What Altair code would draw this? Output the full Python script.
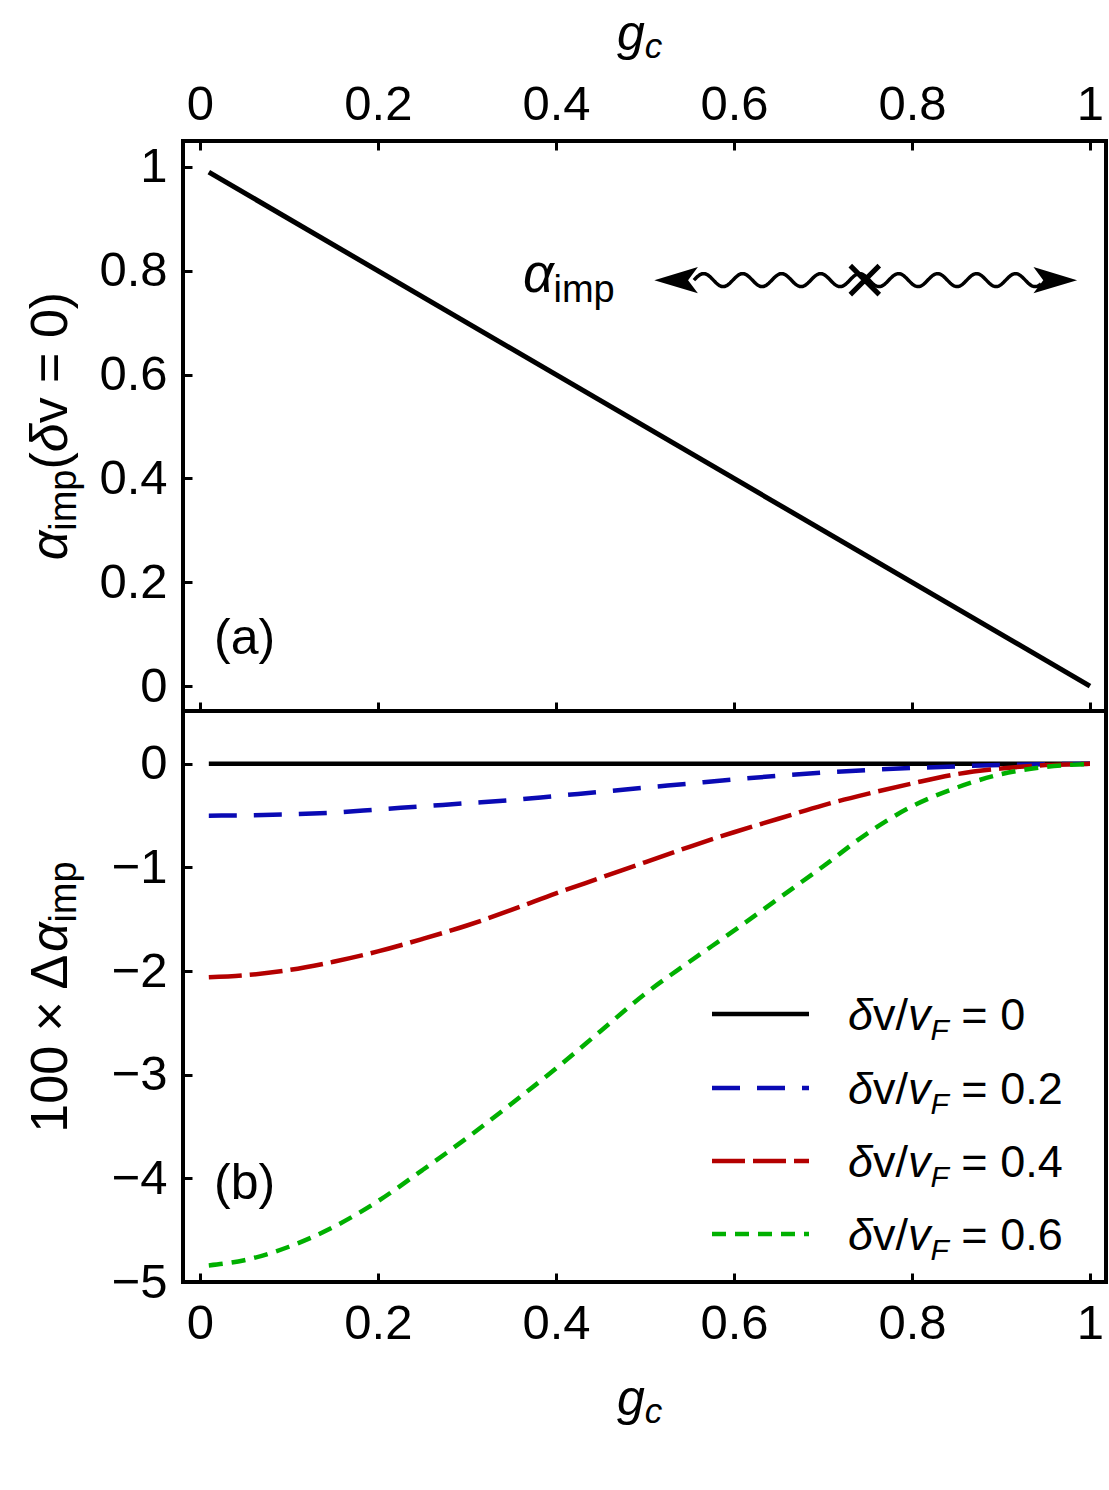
import altair as alt
import numpy as np
import pandas as pd

FONT = "Liberation Sans"

# ---------------------------------------------------------------- data
# panel (a): impurity coupling at zero velocity mismatch
gc_line = [0.01, 1.0]
alpha_imp_dv0 = [0.99, 0.0]

# panel (b): 100 x Δα_imp for several δv/v_F
gc = [0.01, 0.05, 0.10, 0.15, 0.20, 0.25, 0.30, 0.35, 0.40, 0.45, 0.50,
      0.55, 0.60, 0.65, 0.70, 0.75, 0.80, 0.85, 0.90, 0.95, 1.00]
gc_zero = [0.01, 1.0]
d_alpha_00 = [0.0, 0.0]
d_alpha_02 = [-0.500, -0.497, -0.487, -0.470, -0.440, -0.410, -0.380, -0.350,
              -0.310, -0.270, -0.230, -0.190, -0.150, -0.115, -0.085, -0.060,
              -0.040, -0.024, -0.011, -0.003, 0.0]
d_alpha_04 = [-2.06, -2.04, -1.99, -1.91, -1.81, -1.69, -1.56, -1.41, -1.25,
              -1.10, -0.95, -0.80, -0.66, -0.53, -0.40, -0.29, -0.19, -0.10,
              -0.045, -0.012, 0.0]
d_alpha_06 = [-4.84, -4.79, -4.66, -4.47, -4.22, -3.92, -3.61, -3.28, -2.94,
              -2.58, -2.22, -1.91, -1.61, -1.30, -0.99, -0.67, -0.41, -0.23,
              -0.10, -0.03, 0.0]

legend_values = ["0", "0.2", "0.4", "0.6"]
x_ticks = [0, 0.2, 0.4, 0.6, 0.8, 1]
y_ticks_a = [0, 0.2, 0.4, 0.6, 0.8, 1]
y_ticks_b = [-5, -4, -3, -2, -1, 0]

# ---------------------------------------------------------------- styles
colors = ["#000000", "#0a0ab4", "#b40000", "#00b000"]
dashes = [None, [28, 17], [33, 8], [14, 9]]

W, HA, HB = 923, 570, 571
xs = alt.Scale(domain=[-0.019, 1.018], nice=False, zero=False)
ys_a = alt.Scale(domain=[-0.048, 1.05], nice=False, zero=False)
ys_b = alt.Scale(domain=[-5.0, 0.51], nice=False, zero=False)

LABEL_FS = 49
TICK = 9


def inward_axis(orient, values, labels=True, pad=16):
    kw = dict(orient=orient, values=values, format="~g", title=None,
              offset=-TICK, tickSize=TICK, tickWidth=3, tickColor="black",
              labels=labels, labelFont=FONT, labelFontSize=LABEL_FS,
              labelColor="black", labelPadding=pad, labelFlush=False,
              labelOverlap=False, domain=False, grid=False)
    return alt.Axis(**kw)


# advance widths (em) of Liberation Sans, used to place mixed-style text runs
EM = {"α": 0.565, "δ": 0.556, "Δ": 0.667, "×": 0.584, "v": 0.5, "F": 0.611,
      "i": 0.222, "m": 0.833, "p": 0.556, "(": 0.333, ")": 0.333, "=": 0.584,
      " ": 0.278, "0": 0.556, "1": 0.556, "2": 0.556, "4": 0.556, "6": 0.556,
      ".": 0.278, "/": 0.278, "g": 0.556, "c": 0.5, "a": 0.556, "b": 0.556}


def run_width(s, fs):
    return sum(EM[ch] for ch in s) * fs


def hrun(x0, base, parts):
    out, x = [], x0
    for text, fs, it, sh in parts:
        lead = len(text) - len(text.lstrip(" "))
        x += run_width(" " * lead, fs)
        body = text.lstrip(" ")
        out.append(dict(px=x, py=base + sh, t=body, fs=fs, it=it, ang=0))
        x += run_width(body, fs)
    return out


def vrun(bx, yc, parts):
    total = sum(run_width(t, fs) for t, fs, _, _ in parts)
    out, y = [], yc + total / 2
    for text, fs, it, sh in parts:
        out.append(dict(px=bx + sh, py=y, t=text, fs=fs, it=it, ang=270))
        y -= run_width(text, fs)
    return out


def text_layers(rows):
    df = pd.DataFrame(rows)
    layers = []
    for italic in (True, False):
        sub = df[df["it"] == italic]
        if sub.empty:
            continue
        layers.append(
            alt.Chart(sub).mark_text(
                align="left", baseline="alphabetic", font=FONT,
                color="black", fontStyle="italic" if italic else "normal",
            ).encode(
                x=alt.X("px:Q", scale=None, axis=None),
                y=alt.Y("py:Q", scale=None, axis=None),
                text="t:N",
                size=alt.Size("fs:Q", scale=None, legend=None),
                angle=alt.Angle("ang:Q", scale=None, legend=None),
            )
        )
    return layers


# ---------------------------------------------------------------- panel (a)
top_df = pd.DataFrame({"g": gc_line, "a": alpha_imp_dv0})
main_line = alt.Chart(top_df).mark_line(color="black", strokeWidth=5).encode(
    x=alt.X("g:Q", scale=xs, axis=inward_axis("top", x_ticks, pad=12)),
    y=alt.Y("a:Q", scale=ys_a, axis=inward_axis("left", y_ticks_a)),
)

# wavy impurity line with arrowheads and a cross at the impurity site
wave_y = 0.782
wave_g = np.linspace(0.555, 0.945, 500)
wave_df = pd.DataFrame({
    "g": wave_g,
    "a": wave_y + 0.0125 * np.sin(2 * np.pi * (wave_g - 0.555) / 0.0438),
})
wave = alt.Chart(wave_df).mark_line(color="black", strokeWidth=3.5).encode(
    x=alt.X("g:Q", scale=xs, axis=inward_axis("bottom", x_ticks, labels=False)),
    y=alt.Y("a:Q", scale=ys_a, axis=None),
)

head_left = alt.Chart(pd.DataFrame({"g": [0.535], "a": [wave_y]})).mark_point(
    shape="M -1 0 L 1 -0.6 L 0.55 0 L 1 0.6 Z", size=1900, filled=True,
    color="black", opacity=1, strokeWidth=0,
).encode(x=alt.X("g:Q", scale=xs, axis=None), y=alt.Y("a:Q", scale=ys_a, axis=None))

head_right = alt.Chart(pd.DataFrame({"g": [0.961], "a": [wave_y]})).mark_point(
    shape="M 1 0 L -1 -0.6 L -0.55 0 L -1 0.6 Z", size=1900, filled=True,
    color="black", opacity=1, strokeWidth=0,
).encode(x=alt.X("g:Q", scale=xs, axis=None), y=alt.Y("a:Q", scale=ys_a, axis=None))

cross = alt.Chart(pd.DataFrame({"g": [0.747], "a": [wave_y]})).mark_point(
    shape="M -1 -1 L 1 1 M -1 1 L 1 -1", size=841, filled=False,
    color="black", opacity=1, strokeWidth=5,
).encode(x=alt.X("g:Q", scale=xs, axis=None), y=alt.Y("a:Q", scale=ys_a, axis=None))

# keeps the page origin fixed at the upper-left corner
anchor = alt.Chart(pd.DataFrame({"k": [0]})).mark_point(
    size=1, opacity=0, filled=True
).encode(x=alt.value(-180.5), y=alt.value(-138.5))

TITLE_BX = -116
texts_a = []
texts_a += hrun(340, 151, [("α", 54, True, 0), ("imp", 38, False, 10)])
texts_a += hrun(31, 513, [("(a)", 50, False, 0)])
texts_a += hrun(434, -91, [("g", 50, True, 0), ("c", 35, True, 8)])
texts_a += vrun(TITLE_BX, 285, [("α", 52, True, 0), ("imp", 38, False, 9),
                                ("(", 52, False, 0), ("δ", 52, True, 0),
                                ("v = 0)", 52, False, 0)])

panel_a = alt.layer(
    main_line, wave, head_left, head_right, cross, anchor, *text_layers(texts_a)
).resolve_axis(x="independent", y="independent").properties(width=W, height=HA)

# ---------------------------------------------------------------- panel (b)
curve_sets = [(gc_zero, d_alpha_00), (gc, d_alpha_02), (gc, d_alpha_04), (gc, d_alpha_06)]
curves = []
for i, (gx, vals) in enumerate(curve_sets):
    df = pd.DataFrame({"g": gx, "d": vals})
    mk = dict(color=colors[i], strokeWidth=4.5, interpolate="monotone")
    if dashes[i]:
        mk["strokeDash"] = dashes[i]
    if i == 0:
        enc = dict(
            x=alt.X("g:Q", scale=xs, axis=inward_axis("bottom", x_ticks, pad=17)),
            y=alt.Y("d:Q", scale=ys_b, axis=inward_axis("left", y_ticks_b)),
        )
    else:
        enc = dict(x=alt.X("g:Q", scale=xs, axis=None),
                   y=alt.Y("d:Q", scale=ys_b, axis=None))
    curves.append(alt.Chart(df).mark_line(**mk).encode(**enc))

legend_rows = [303, 377, 450, 523]
legend_marks = []
texts_b = []
for i, val in enumerate(legend_values):
    yc = legend_rows[i]
    mk = dict(color=colors[i], strokeWidth=4.5)
    if dashes[i]:
        mk["strokeDash"] = dashes[i]
    legend_marks.append(
        alt.Chart(pd.DataFrame({"k": [0]})).mark_rule(**mk).encode(
            x=alt.value(529), x2=alt.value(626), y=alt.value(yc)
        )
    )
    texts_b += hrun(665, yc + 16, [("δ", 45, True, 0), ("v/", 45, False, 0),
                                   ("v", 45, True, 0), ("F", 30, True, 10),
                                   (" = " + val, 45, False, 0)])

texts_b += hrun(31, 488, [("(b)", 50, False, 0)])
texts_b += hrun(434, 704, [("g", 50, True, 0), ("c", 35, True, 8)])
texts_b += vrun(TITLE_BX, 286, [("100 × Δ", 52, False, 0), ("α", 52, True, 0),
                                ("imp", 38, False, 9)])

panel_b = alt.layer(*curves, *legend_marks, *text_layers(texts_b)).resolve_axis(
    x="independent", y="independent"
).properties(width=W, height=HB)

chart = (
    alt.vconcat(panel_a, panel_b, spacing=0, bounds="flush")
    .resolve_scale(x="independent", y="independent")
    .properties(padding=0, background="white")
    .configure_view(stroke="black", strokeWidth=4)
)

chart.save("out.html", embed_options={"renderer": "svg", "actions": False})
